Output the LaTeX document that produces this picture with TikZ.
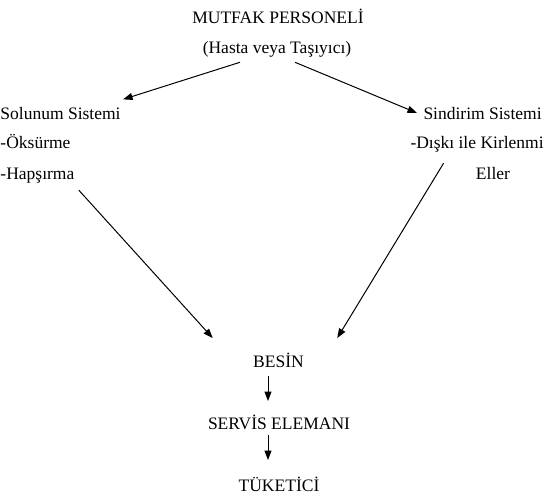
\documentclass[tikz,border=0pt]{standalone}
\usepackage{fontspec}
\setmainfont{Liberation Serif}
\usetikzlibrary{arrows.meta,positioning}

\begin{document}
\begin{tikzpicture}[x=1pt,y=-1pt,>={Triangle[length=9.5pt,width=7pt]},line width=1pt,
        txt/.style={inner sep=0pt,font=\fontsize{17.5}{21}\selectfont}]
        \useasboundingbox (0,0) rectangle (547,500);
        \node[txt,anchor=base] (mutfak) at (278,24) {MUTFAK PERSONEL\.I};
        \node[txt,anchor=base] (hasta) at (277,54) {(Hasta veya Taşıyıcı)};
        \node[txt,anchor=base west] (solunum) at (0,120) {Solunum Sistemi};
        \node[txt,anchor=base west] (oksurme) at (0,149) {-Öksürme};
        \node[txt,anchor=base west] (hapsirma) at (0,180) {-Hapşırma};
        \node[txt,anchor=base west] (sindirim) at (423,120) {Sindirim Sistemi};
        \node[txt,anchor=base west] (diski) at (410,149) {-Dışkı ile Kirlenmi};
        \node[txt,anchor=base] (eller) at (493,180) {Eller};
        \node[txt,anchor=base] (besin) at (278.5,367) {BES\.IN};
        \node[txt,anchor=base] (servis) at (279,429) {SERV\.IS ELEMANI};
        \node[txt,anchor=base] (tuketici) at (279,491) {TÜKET\.IC\.I};

        \path[->]
             ([xshift=-37pt,yshift=-4pt]hasta.south) edge ([xshift=2pt,yshift=8pt]solunum.north east)
             ([xshift=18pt,yshift=-4pt]hasta.south) edge ([xshift=-6pt,yshift=1pt]sindirim.west)
             ([xshift=4pt,yshift=-6pt]hapsirma.south east) edge ([xshift=-40pt,yshift=14pt]besin.north west)
             ([xshift=-33.5pt,yshift=-10pt]diski.south) edge ([xshift=33pt,yshift=14pt]besin.north east)
             ([xshift=-10.5pt,yshift=-8pt]besin.south) edge ([xshift=-11pt,yshift=13pt]servis.north)
             ([xshift=-11pt,yshift=-5pt]servis.south) edge ([xshift=-11pt,yshift=16pt]tuketici.north)
        ;
    \end{tikzpicture}
\end{document}
